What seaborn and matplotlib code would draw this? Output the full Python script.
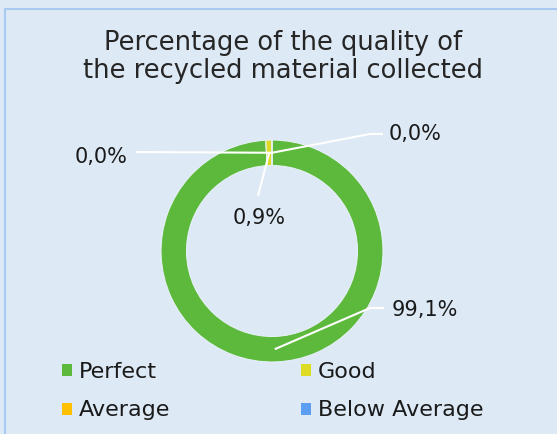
import numpy as np
import matplotlib
matplotlib.use("Agg")
import matplotlib.pyplot as plt
import seaborn as sns
from matplotlib.patches import Patch, Rectangle

# dados do gráfico
categorias = ["Perfect", "Good", "Average", "Below Average"]
valores = [99.1, 0.9, 0.0, 0.0]
rotulos = ["99,1%", "0,9%", "0,0%", "0,0%"]
titulo = "Percentage of the quality of\nthe recycled material collected"

sns.set_theme(style="white")
plt.rcParams["font.family"] = ["DejaVu Sans"]
cores = sns.color_palette(["#5DB93B", "#DEDB25", "#FFC000", "#5B9EF2"])

fundo = "#DDEAF6"
W, H = 557, 434
fig = plt.figure(figsize=(W / 100, H / 100), dpi=100, facecolor=fundo)

# moldura
fig.patches.append(Rectangle((5 / W, -0.1), 1.2, 1 - 9 / H + 0.1, transform=fig.transFigure,
                             fill=False, edgecolor="#A8C9F0", linewidth=1.5))

# eixo em que 1 unidade = raio externo do anel (111 px)
R = 111
cx, cy = 272, 251
ax = fig.add_axes([0, 0, 1, 1])

largura = 0.23
ax.pie([max(v, 1e-9) for v in valores], colors=cores, startangle=90, counterclock=False,
       radius=1, wedgeprops=dict(width=largura, edgecolor="#E6F0F8", linewidth=0.8))
ax.set_xlim(-cx / R, (W - cx) / R)
ax.set_ylim(-(H - cy) / R, cy / R)
ax.set_aspect("equal")
ax.axis("off")

# ângulos médios de cada fatia
total = sum(valores)
acum = np.cumsum([0] + valores[:-1])
meio = [90 - (a + v / 2) / total * 360 for a, v in zip(acum, valores)]
rm = 1 - largura / 2

def px(x, y):
    return ((x - cx) / R, (cy - y) / R)

# posição dos rótulos (px) e cotovelo da linha
pos_rotulos = [(425, 310, "center"), (259, 218, "center"), (128, 157, "right"), (389, 134, "left")]
cotovelos = [[(370, 308), (384, 308)], [(258, 196)], [(136, 152)], [(370, 134), (383, 134)]]

for ang, rot, (lx, ly, ha), cot in zip(meio, rotulos, pos_rotulos, cotovelos):
    x0, y0 = rm * np.cos(np.radians(ang)), rm * np.sin(np.radians(ang))
    pts = [(x0, y0)] + [px(*p) for p in cot]
    xs, ys = zip(*pts)
    ax.plot(xs, ys, color="white", linewidth=1.5, solid_capstyle="butt")
    tx, ty = px(lx, ly)
    ax.text(tx, ty, rot, ha=ha, va="center", fontsize=15, color="#1a1a1a")

fig.text(283 / W, 1 - 57 / H, titulo, ha="center", va="center", fontsize=18.5,
         color="#262626", linespacing=1.15)

# legenda em linhas: matplotlib preenche por coluna, então reordena
ordem = [0, 2, 1, 3]
alcas = [Patch(facecolor=cores[i], edgecolor="none") for i in ordem]
fig.legend(alcas, [categorias[i] for i in ordem], ncol=2, loc="center left",
           bbox_to_anchor=(42 / W, 1 - 391 / H),
           frameon=False, fontsize=16, handlelength=0.45, handleheight=0.45,
           handletextpad=0.3, columnspacing=5.9, labelspacing=0.85, labelcolor="#1a1a1a")

fig.savefig("out.png", dpi=100, facecolor=fundo)
